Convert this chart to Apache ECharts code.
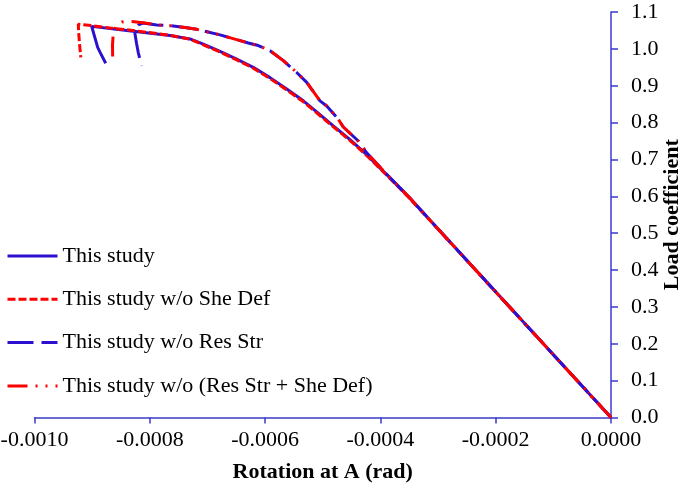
<!DOCTYPE html>
<html>
<head>
<meta charset="utf-8">
<script src="https://cdn.jsdelivr.net/npm/echarts@6/dist/echarts.min.js"></script>
<style>html,body{margin:0;padding:0;background:#fff;}#c{width:685px;height:489px;}</style>
</head>
<body>
<div id="c"></div>
<script>
// Rotation at A (rad) and load coefficient
const studyX = [0, -3.197e-4, -3.487e-4, -3.891e-4, -4.238e-4, -4.527e-4, -4.817e-4, -5.105e-4, -5.337e-4, -5.625e-4, -5.915e-4, -6.205e-4, -6.493e-4, -6.782e-4, -7.072e-4, -7.303e-4, -7.650e-4, -8.401e-4, -9.008e-4, -8.904e-4, -8.864e-4, -8.765e-4];
const studyY = [0, 0.545, 0.595, 0.659, 0.713, 0.754, 0.791, 0.829, 0.859, 0.891, 0.922, 0.950, 0.972, 0.993, 1.013, 1.027, 1.036, 1.050, 1.061, 1.004, 0.991, 0.961];

const noSheX = [0, -3.20e-4, -3.49e-4, -3.89e-4, -4.24e-4, -4.53e-4, -4.82e-4, -5.11e-4, -5.34e-4, -5.63e-4, -5.92e-4, -6.21e-4, -6.49e-4, -6.78e-4, -7.07e-4, -7.30e-4, -7.65e-4, -8.40e-4, -8.66e-4, -9.01e-4, -9.24e-4, -9.234e-4, -9.217e-4, -9.197e-4];
const noSheY = [0, 0.545, 0.594, 0.657, 0.711, 0.752, 0.789, 0.827, 0.857, 0.889, 0.920, 0.948, 0.970, 0.991, 1.011, 1.026, 1.037, 1.052, 1.056, 1.063, 1.067, 1.045, 1.010, 0.977];

const noResX = [0, -3.197e-4, -3.487e-4, -3.891e-4, -4.238e-4, -4.383e-4, -4.644e-4, -4.730e-4, -4.931e-4, -5.048e-4, -5.278e-4, -5.452e-4, -5.684e-4, -5.915e-4, -6.118e-4, -6.292e-4, -6.782e-4, -7.187e-4, -7.360e-4, -7.650e-4, -7.880e-4, -8.118e-4, -8.200e-4, -8.257e-4, -8.257e-4, -8.228e-4, -8.200e-4, -8.141e-4];
const noResY = [0, 0.545, 0.595, 0.660, 0.718, 0.750, 0.788, 0.809, 0.845, 0.859, 0.909, 0.936, 0.968, 0.995, 1.009, 1.016, 1.038, 1.053, 1.057, 1.063, 1.065, 1.070, 1.065, 1.054, 1.040, 1.013, 0.990, 0.954];

const noBothX = [0, -3.197e-4, -3.487e-4, -3.891e-4, -4.238e-4, -4.383e-4, -4.644e-4, -4.730e-4, -4.931e-4, -5.048e-4, -5.278e-4, -5.452e-4, -5.684e-4, -5.915e-4, -6.118e-4, -6.292e-4, -6.782e-4, -7.187e-4, -7.360e-4, -7.650e-4, -7.880e-4, -8.118e-4, -8.314e-4, -8.401e-4, -8.488e-4, -8.574e-4, -8.633e-4, -8.647e-4, -8.644e-4];
const noBothY = [0, 0.545, 0.595, 0.660, 0.718, 0.750, 0.788, 0.809, 0.845, 0.859, 0.909, 0.936, 0.968, 0.995, 1.009, 1.016, 1.038, 1.053, 1.057, 1.063, 1.065, 1.071, 1.074, 1.075, 1.073, 1.064, 1.045, 1.010, 0.977];

const seriesNames = ['This study', 'This study w/o She Def', 'This study w/o Res Str', 'This study w/o (Res Str + She Def)'];
const xTicks = [-0.0010, -0.0008, -0.0006, -0.0004, -0.0002, 0.0000];
const yTicks = [0.0, 0.1, 0.2, 0.3, 0.4, 0.5, 0.6, 0.7, 0.8, 0.9, 1.0, 1.1];

const zip = (xs, ys) => xs.map((x, i) => [x, ys[i]]);
const BLUE = '#2b10d0', RED = '#ff0000', AXIS = '#3a3acc';
const FONT = 'Liberation Serif';

const chart = echarts.init(document.getElementById('c'), null, {renderer: 'canvas'});
const mk = (name, xs, ys, color, type) => ({
  name, type: 'line', data: zip(xs, ys), symbol: 'none', smooth: false,
  lineStyle: {color, width: 3, type}, itemStyle: {color}
});
chart.setOption({
  animation: false,
  backgroundColor: '#fff',
  grid: {left: 34.5, right: 74, top: 12, bottom: 71.5, containLabel: false, outerBoundsMode: 'none'},
  legend: {
    orient: 'vertical', left: 6, top: 245, padding: 0, itemWidth: 50, itemHeight: 22, itemGap: 21.3,
    data: seriesNames,
    itemStyle: {opacity: 0},
    lineStyle: {width: 3},
    textStyle: {fontFamily: FONT, fontSize: 22, color: '#000'}
  },
  xAxis: {
    type: 'value', min: xTicks[0], max: xTicks[xTicks.length - 1], interval: 0.0002,
    axisLine: {onZero: false, lineStyle: {color: AXIS, width: 1.5}},
    axisTick: {show: true, inside: false, length: 6, lineStyle: {color: AXIS, width: 1.5}},
    splitLine: {show: false},
    axisLabel: {margin: 12, fontFamily: FONT, fontSize: 22, color: '#000', formatter: v => v.toFixed(4)},
    name: 'Rotation at A (rad)', nameLocation: 'middle', nameGap: 44,
    nameTextStyle: {fontFamily: FONT, fontSize: 22, fontWeight: 'bold', color: '#000'}
  },
  yAxis: {
    type: 'value', position: 'right', min: yTicks[0], max: yTicks[yTicks.length - 1], interval: 0.1,
    axisLine: {show: true, onZero: false, lineStyle: {color: AXIS, width: 1.5}},
    axisTick: {show: true, inside: false, length: 7, lineStyle: {color: AXIS, width: 1.5}},
    splitLine: {show: false},
    axisLabel: {margin: 20, fontFamily: FONT, fontSize: 22, color: '#000', formatter: v => v.toFixed(1)},
    name: 'Load coefficient', nameLocation: 'middle', nameGap: 50, nameRotate: 90, nameMoveOverlap: false,
    nameTextStyle: {fontFamily: FONT, fontSize: 22, fontWeight: 'bold', color: '#000'}
  },
  series: [
    mk(seriesNames[0], studyX, studyY, BLUE, 'solid'),
    mk(seriesNames[1], noSheX, noSheY, RED, [8, 3]),
    mk(seriesNames[2], noResX, noResY, BLUE, [26, 8]),
    mk(seriesNames[3], noBothX, noBothY, RED, [20, 8, 2, 8, 2, 8])
  ]
});
</script>
</body>
</html>
